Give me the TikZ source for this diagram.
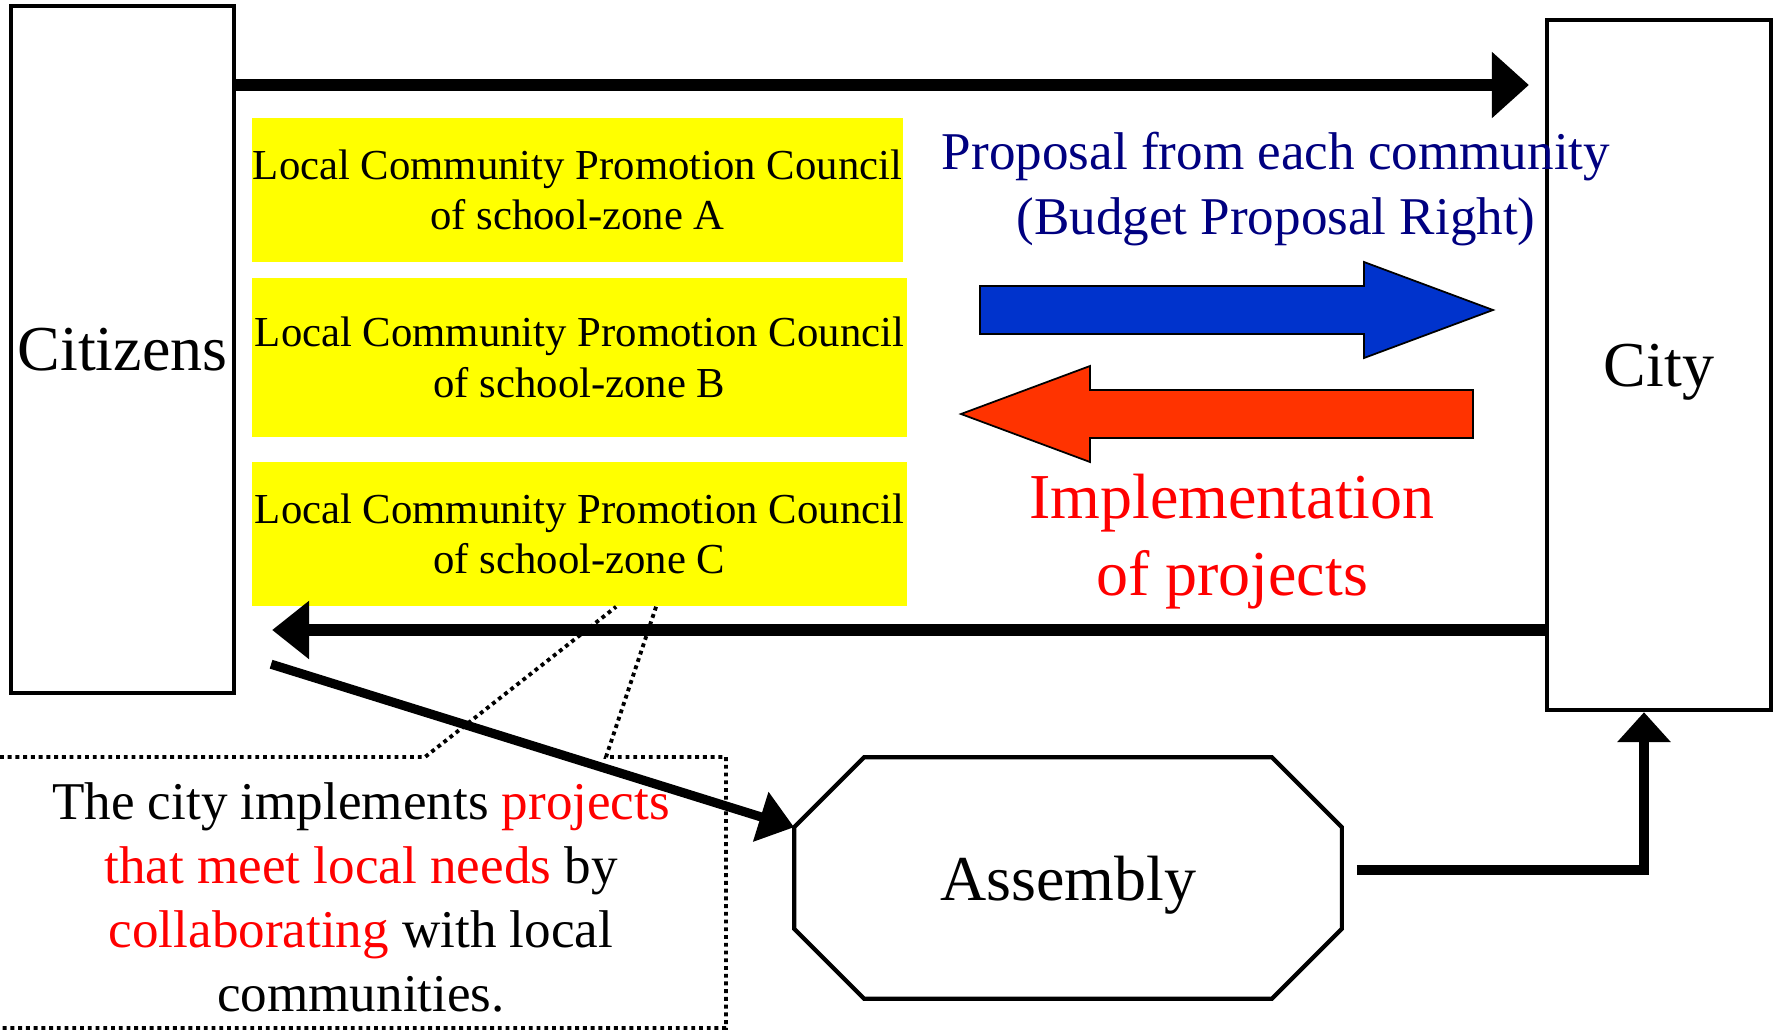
\documentclass[tikz,border=0pt]{standalone}
\usepackage{fontspec}
\setmainfont{Liberation Serif}
\usepackage{tikz}
\usetikzlibrary{arrows.meta,calc}

\definecolor{zoneyellow}{HTML}{FFFF00}
\definecolor{proposalblue}{HTML}{0033CC}
\definecolor{projectred}{HTML}{FF3300}
\definecolor{proposalnavy}{HTML}{000080}

\begin{document}
\begin{tikzpicture}[x=0.01cm, y=-0.01cm,
    actor_box/.style={draw, line width=1.15pt, inner sep=0pt, text depth=0pt, font=\fontsize{18.2}{21}\selectfont},
    zone_box/.style={fill=zoneyellow, inner sep=0pt, align=center, font=\fontsize{12.15}{14.3}\selectfont},
    thick_flow/.style={line width=3.5pt},
    fat_arrow/.style={draw=black, line width=0.5pt},
    callout_line/.style={line width=1.1pt, dash pattern=on 1.1pt off 1.1pt}]

    \useasboundingbox (0,0) rectangle (1781,1030);

    \node[actor_box, minimum width=2.23cm, minimum height=6.87cm] (cit) at (122.5, 349.5) {Citizens};
    \node[actor_box, minimum width=2.24cm, minimum height=6.90cm] (city) at (1659, 365) {City};

    \node[zone_box, minimum width=6.51cm, minimum height=1.44cm] (zA) at (577.5, 190) {Local Community Promotion Council\\of school-zone A};
    \node[zone_box, minimum width=6.55cm, minimum height=1.59cm] (zB) at (579.5, 357.5) {Local Community Promotion Council\\of school-zone B};
    \node[zone_box, minimum width=6.55cm, minimum height=1.44cm] (zC) at (579.5, 534) {Local Community Promotion Council\\of school-zone C};

    \node[inner sep=0pt, text depth=0pt, minimum width=5.46cm, minimum height=2.40cm, font=\fontsize{18.2}{21}\selectfont] (asm) at (1068, 878) {Assembly};
    \draw[line width=1.2pt] ($(asm.north west)+(70,0)$) -- ($(asm.north east)+(-70,0)$) -- ($(asm.north east)+(0,70)$) -- ($(asm.south east)+(0,-70)$)
        -- ($(asm.south east)+(-70,0)$) -- ($(asm.south west)+(70,0)$) -- ($(asm.south west)+(0,-70)$) -- ($(asm.north west)+(0,70)$) -- cycle;

    \coordinate (topy) at (0, 85);
    \coordinate (boty) at (0, 630);
    \draw[thick_flow, -{Triangle[length=0.37cm, width=0.64cm]}] (cit.east |- topy) -- ($(city.west |- topy)+(-16,0)$);
    \draw[thick_flow, -{Triangle[length=0.37cm, width=0.56cm]}] (city.west |- boty) -- ($(cit.east |- boty)+(36,0)$);

    \draw[fat_arrow, fill=proposalblue] (980,286) -- (1364,286) -- (1364,262) -- (1493,310) -- (1364,358) -- (1364,334) -- (980,334) -- cycle;
    \draw[fat_arrow, fill=projectred] (1473,390) -- (1090,390) -- (1090,366) -- (961,414) -- (1090,462) -- (1090,438) -- (1473,438) -- cycle;

    \node[align=center, text=proposalnavy, font=\fontsize{15.1}{18.5}\selectfont] (prop) at (1276, 189) {Proposal from each community\\(Budget Proposal Right)};
    \node[align=center, text=red, font=\fontsize{18.2}{21.9}\selectfont] (impl) at (1232, 542) {Implementation\\of projects};

    \draw[callout_line] (0,757) -- (425,757) -- ($(zC.south west)+(365,0)$);
    \draw[callout_line] ($(zC.south west)+(405,0)$) -- (606,757) -- (726,757) -- (726,1028) -- (0,1028);
    \node[align=center, font=\fontsize{15.1}{18.2}\selectfont] (note) at (361, 897) {The city implements \textcolor{red}{projects}\\\textcolor{red}{that meet local needs} by\\\textcolor{red}{collaborating} with local\\communities.};

    \draw[line width=2.6pt, -{Triangle[length=0.35cm, width=0.50cm]}] ($(cit.south east)+(35,-31)$) -- ($(asm.north west)+(0,70)$);
    \draw[line width=2.8pt, -{Triangle[length=0.30cm, width=0.52cm]}] ($(asm.east)+(15,-8)$) -| ($(city.south)+(-15,0)$);
\end{tikzpicture}
\end{document}
